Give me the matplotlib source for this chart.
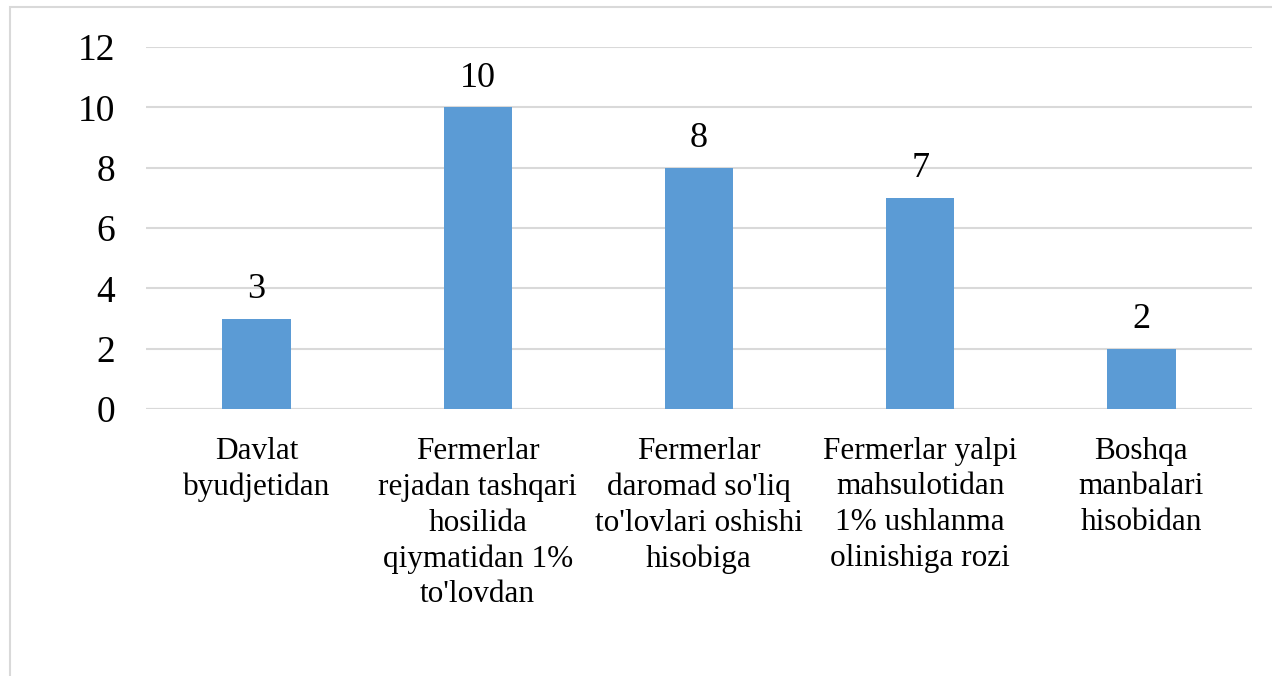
import matplotlib
matplotlib.use("Agg")
import matplotlib.pyplot as plt
from matplotlib.patches import Rectangle

categories = [
    "Davlat\nbyudjetidan",
    "Fermerlar\nrejadan tashqari\nhosilida\nqiymatidan 1%\nto'lovdan",
    "Fermerlar\ndaromad so'liq\nto'lovlari oshishi\nhisobiga",
    "Fermerlar yalpi\nmahsulotidan\n1% ushlanma\nolinishiga rozi",
    "Boshqa\nmanbalari\nhisobidan",
]
values = [3, 10, 8, 7, 2]
y_ticks = [0, 2, 4, 6, 8, 10, 12]

W, H = 1272, 676
fig = plt.figure(figsize=(W / 100, H / 100), dpi=100)
plt.rcParams["font.family"] = ["Liberation Serif", "DejaVu Serif"]

# outer chart frame, running off the right and bottom edges
fig.patches.append(Rectangle((10 / W, -0.1), 1.2, 1 - 7 / H + 0.1,
                             transform=fig.transFigure, fill=False,
                             edgecolor="#d9d9d9", linewidth=1.5))

left, right = 146 / W, 1252 / W
top, bottom = 1 - 47 / H, 1 - 409 / H
ax = fig.add_axes([left, bottom, right - left, top - bottom])

x = range(len(values))
ax.bar(x, values, width=0.31, color="#5b9bd5", zorder=3)
for xi, v in zip(x, values):
    ax.annotate(str(v), (xi, v), xytext=(0, 9), textcoords="offset points",
                ha="center", va="bottom", fontsize=26)

ax.set_xlim(-0.5, len(values) - 0.5)
ax.set_ylim(0, 12)
ax.set_yticks(y_ticks)
ax.set_yticklabels([str(t) for t in y_ticks], fontsize=27)
ax.set_xticks(list(x))
ax.set_xticklabels(categories, fontsize=22.5, linespacing=1.3)
ax.tick_params(axis="both", length=0)
ax.tick_params(axis="y", pad=22)
ax.tick_params(axis="x", pad=20)
ax.yaxis.grid(True, color="#d9d9d9", linewidth=1.5, zorder=0)
for s in ax.spines.values():
    s.set_visible(False)
ax.axhline(0, color="#d9d9d9", linewidth=1.5, zorder=2)

fig.savefig("out.png", dpi=100)
